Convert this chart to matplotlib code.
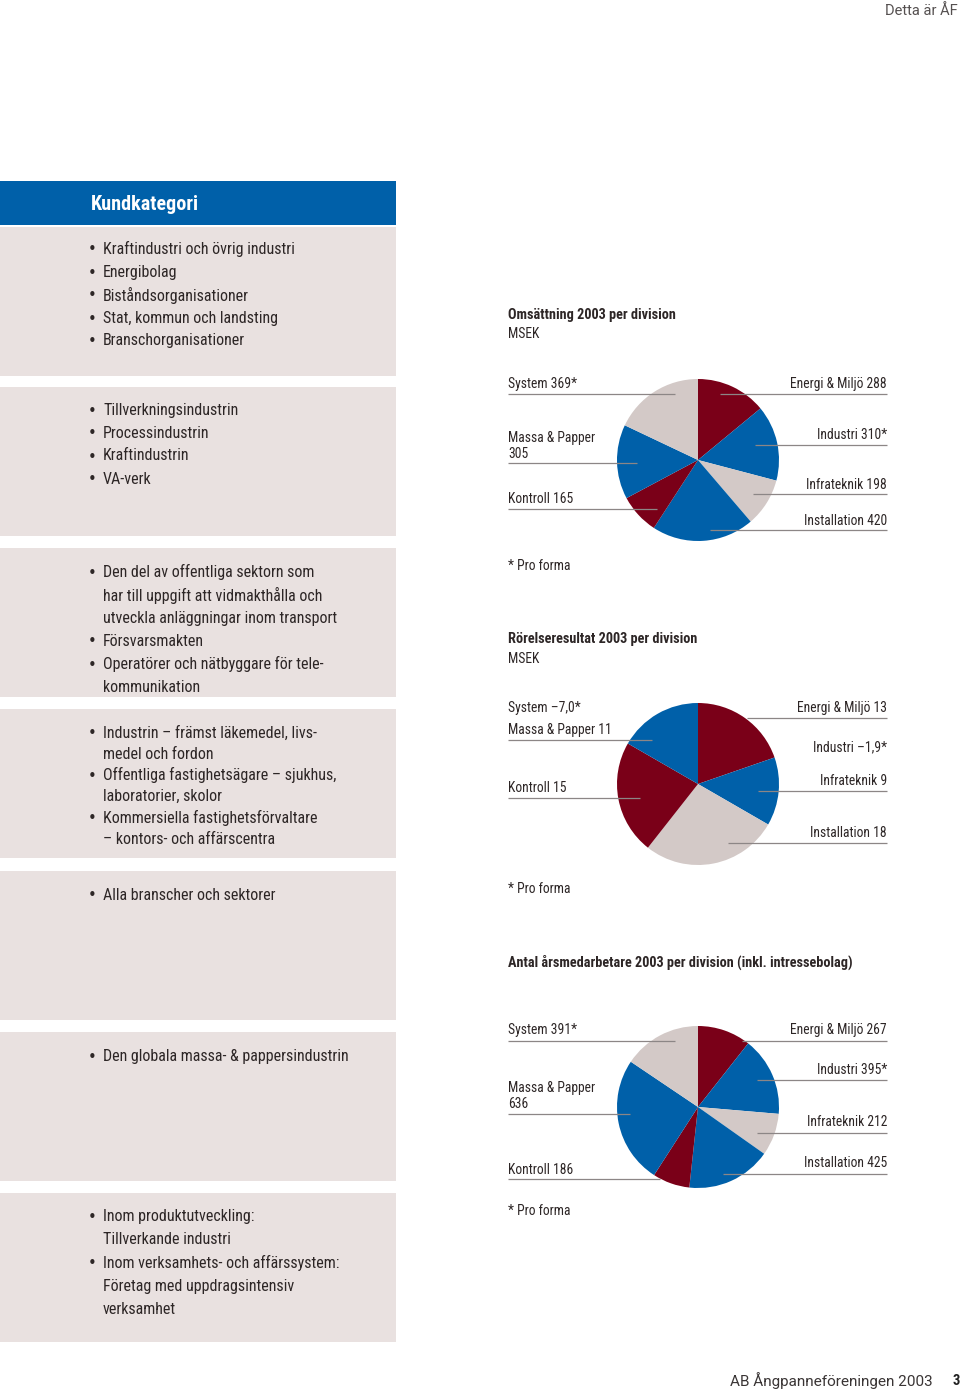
import matplotlib
matplotlib.use("Agg")
import matplotlib.pyplot as plt

# ---------------- data ----------------
divisions = ["Energi & Miljö", "Industri", "Infrateknik", "Installation",
             "Kontroll", "Massa & Papper", "System"]
pro_forma = ["Industri", "System"]
omsattning = [288, 310, 198, 420, 165, 305, 369]
rorelseresultat = [13, -1.9, 9, 18, 15, 11, -7.0]
arsmedarbetare = [267, 395, 212, 425, 186, 636, 391]

title_oms = "Omsättning 2003 per division"
title_ror = "Rörelseresultat 2003 per division"
title_ars = "Antal årsmedarbetare 2003 per division (inkl. intressebolag)"
unit = "MSEK"
footnote = "* Pro forma"

kund_header = "Kundkategori"
kund_boxes = [
    ["• Kraftindustri och övrig industri", "• Energibolag",
     "• Biståndsorganisationer", "• Stat, kommun och landsting",
     "• Branschorganisationer"],
    ["• Tillverkningsindustrin", "• Processindustrin", "• Kraftindustrin",
     "• VA-verk"],
    ["• Den del av offentliga sektorn som",
     "   har till uppgift att vidmakthålla och",
     "   utveckla anläggningar inom transport",
     "• Försvarsmakten", "• Operatörer och nätbyggare för tele-",
     "   kommunikation"],
    ["• Industrin – främst läkemedel, livs-", "   medel och fordon",
     "• Offentliga fastighetsägare – sjukhus,", "   laboratorier, skolor",
     "• Kommersiella fastighetsförvaltare", "   – kontors- och affärscentra"],
    ["• Alla branscher och sektorer"],
    ["• Den globala massa- & pappersindustrin"],
    ["• Inom produktutveckling:", "   Tillverkande industri",
     "• Inom verksamhets- och affärssystem:", "   Företag med uppdragsintensiv",
     "   verksamhet"],
]

# ---------------- style ----------------
BLUE = "#0060a9"
RED = "#7a0018"
GREY = "#d3c9c7"
BOX = "#e9e1e0"
TXT = "#2d2626"
LINE = "#8c8686"
FONT = ["Roboto Condensed", "Liberation Sans Narrow", "DejaVu Sans"]
plt.rcParams["font.family"] = FONT
plt.rcParams["font.stretch"] = "condensed"

W, H = 960, 1389
fig = plt.figure(figsize=(W / 100, H / 100), dpi=100)
fig.patch.set_facecolor("white")

bg = fig.add_axes([0, 0, 1, 1], zorder=0)
bg.set_xlim(0, W); bg.set_ylim(H, 0); bg.axis("off")
ov = fig.add_axes([0, 0, 1, 1], zorder=3)
ov.set_xlim(0, W); ov.set_ylim(H, 0); ov.axis("off")
ov.patch.set_alpha(0)

# ---------------- left column ----------------
bg.add_patch(plt.Rectangle((0, 181), 396, 44, color=BLUE, lw=0))
ov.text(91, 204, kund_header, color="white", fontsize=14.5, fontweight="bold",
        va="center", ha="left")
box_tops = [227, 387, 548, 709, 871, 1032, 1193]
box_h = 149
first_line = [249, 410, 572, 733, 895, 1056, 1217]
spacing = [23, 23, 23, 21.2, 23, 23, 23]
for top, lines, y0, sp in zip(box_tops, kund_boxes, first_line, spacing):
    bg.add_patch(plt.Rectangle((0, top), 396, box_h, color=BOX, lw=0))
    for i, ln in enumerate(lines):
        y = y0 + i * sp
        if ln.startswith("• "):
            ov.text(88, y + 1, "•", color=TXT, fontsize=10.5, va="center",
                    family="DejaVu Sans", stretch="normal")
            ov.text(103, y, ln[2:], color=TXT, fontsize=11.5, va="center")
        else:
            ov.text(103, y, ln.strip(), color=TXT, fontsize=11.5, va="center")

# header / footer
ov.text(958, 11, "Detta är ÅF", color="#555050", fontsize=10.5, ha="right",
        va="center", family="Roboto", stretch="normal")
ov.text(933, 1381, "AB Ångpanneföreningen 2003", color="#3a3535", fontsize=11,
        ha="right", va="center", family="Roboto", stretch="normal")
ov.text(960, 1381, "3", color="#222", fontsize=10.5, ha="right", va="center",
        fontweight="bold")


def fmt(name, v):
    if isinstance(v, float):
        s = f"{abs(v):.1f}".replace(".", ",")
        s = ("–" if v < 0 else "") + s
    else:
        s = str(v)
    return f"{name} {s}" + ("*" if name in pro_forma else "")


def draw_pie(cy, values, colors):
    cx, r = 698, 81
    ax = fig.add_axes([(cx - r) / W, 1 - (cy + r) / H, 2 * r / W, 2 * r / H], zorder=2)
    pos = [v for v in values if v > 0]
    ax.pie(pos, colors=colors, startangle=90, counterclock=False, radius=1,
           wedgeprops=dict(linewidth=0))
    ax.set_xlim(-1, 1); ax.set_ylim(-1, 1); ax.axis("off")


FS_L = 9.8


def label(x, y, text, ha="left", line=None, ly=None):
    ov.text(x, y, text, color=TXT, fontsize=FS_L, ha=ha, va="center",
            linespacing=1.2)
    if line is not None:
        ov.plot(line, [ly, ly], color=LINE, lw=0.9, solid_capstyle="butt")


FS_T = 10.3
# ---- chart 1
ov.text(508, 315, title_oms, color=TXT, fontsize=FS_T, fontweight="bold", va="center")
ov.text(508, 334, unit, color=TXT, fontsize=FS_L, va="center")
draw_pie(460, omsattning, [RED, BLUE, GREY, BLUE, RED, BLUE, GREY])
d = dict(zip(divisions, omsattning))
label(508, 384, fmt("System", d["System"]), line=[508, 675], ly=394)
label(508, 446, "Massa & Papper\n" + str(d["Massa & Papper"]), line=[508, 637], ly=463)
label(508, 499, fmt("Kontroll", d["Kontroll"]), line=[508, 657], ly=509)
label(887, 384, fmt("Energi & Miljö", d["Energi & Miljö"]), ha="right", line=[720, 887], ly=394)
label(887, 435, fmt("Industri", d["Industri"]), ha="right", line=[755, 887], ly=445)
label(887, 485, fmt("Infrateknik", d["Infrateknik"]), ha="right", line=[753, 887], ly=494)
label(887, 521, fmt("Installation", d["Installation"]), ha="right", line=[710, 887], ly=530)
ov.text(508, 566, footnote, color=TXT, fontsize=FS_L, va="center")

# ---- chart 2
ov.text(508, 639, title_ror, color=TXT, fontsize=FS_T, fontweight="bold", va="center")
ov.text(508, 659, unit, color=TXT, fontsize=FS_L, va="center")
draw_pie(784, rorelseresultat, [RED, BLUE, GREY, RED, BLUE])
d = dict(zip(divisions, rorelseresultat))
label(508, 708, fmt("System", d["System"]))
label(508, 730, fmt("Massa & Papper", int(d["Massa & Papper"])), line=[508, 652], ly=740)
label(508, 788, fmt("Kontroll", int(d["Kontroll"])), line=[508, 640], ly=798)
label(887, 708, fmt("Energi & Miljö", int(d["Energi & Miljö"])), ha="right", line=[747, 887], ly=718)
label(887, 747, fmt("Industri", d["Industri"]), ha="right")
label(887, 781, fmt("Infrateknik", int(d["Infrateknik"])), ha="right", line=[758, 887], ly=791)
label(887, 833, fmt("Installation", int(d["Installation"])), ha="right", line=[728, 887], ly=843)
ov.text(508, 889, footnote, color=TXT, fontsize=FS_L, va="center")

# ---- chart 3
ov.text(508, 962, title_ars, color=TXT, fontsize=FS_T, fontweight="bold", va="center")
draw_pie(1107, arsmedarbetare, [RED, BLUE, GREY, BLUE, RED, BLUE, GREY])
d = dict(zip(divisions, arsmedarbetare))
label(508, 1030, fmt("System", d["System"]), line=[508, 675], ly=1041)
label(508, 1096, "Massa & Papper\n" + str(d["Massa & Papper"]), line=[508, 630], ly=1114)
label(508, 1170, fmt("Kontroll", d["Kontroll"]), line=[508, 660], ly=1179)
label(887, 1030, fmt("Energi & Miljö", d["Energi & Miljö"]), ha="right", line=[742, 887], ly=1041)
label(887, 1070, fmt("Industri", d["Industri"]), ha="right", line=[757, 887], ly=1080)
label(887, 1122, fmt("Infrateknik", d["Infrateknik"]), ha="right", line=[757, 887], ly=1133)
label(887, 1163, fmt("Installation", d["Installation"]), ha="right", line=[723, 887], ly=1174)
ov.text(508, 1211, footnote, color=TXT, fontsize=FS_L, va="center")

fig.savefig("out.png", dpi=100, facecolor="white")
